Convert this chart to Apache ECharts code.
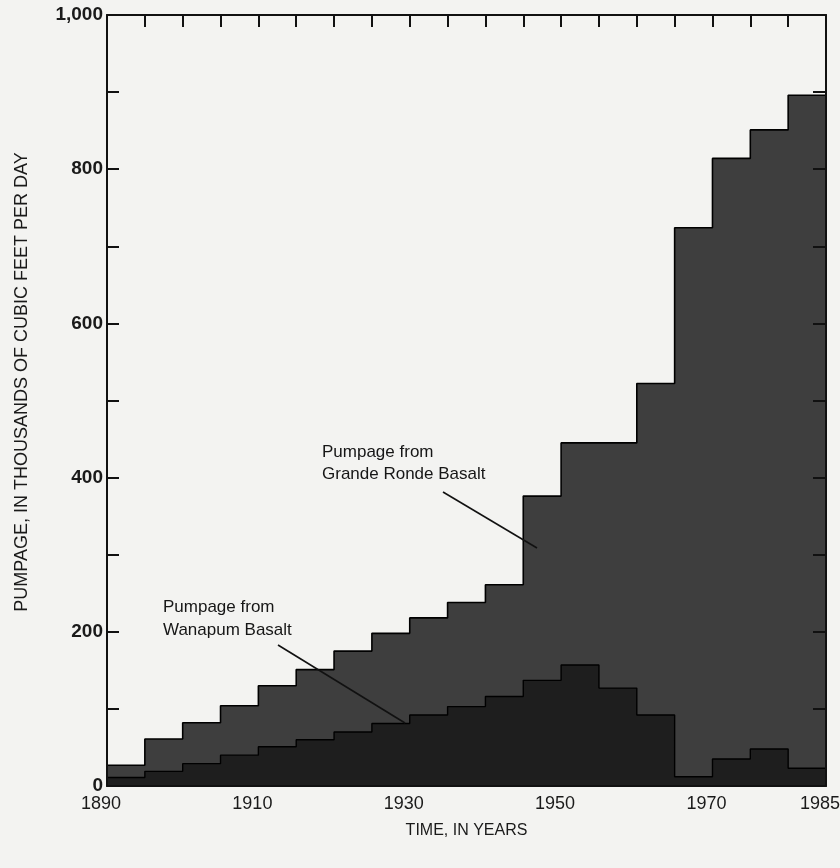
<!DOCTYPE html>
<html>
<head>
<meta charset="utf-8">
<script src="https://cdn.jsdelivr.net/npm/echarts@6/dist/echarts.min.js"></script>
<style>
html,body{margin:0;padding:0;background:#f3f3f1;}
#chart{width:840px;height:868px;}
</style>
</head>
<body>
<div id="chart"></div>
<script>
// 5-year bins (start year of each bin)
const binStartYears = [1890,1895,1900,1905,1910,1915,1920,1925,1930,1935,1940,1945,1950,1955,1960,1965,1970,1975,1980];
const endYear = 1985;
// Pumpage, thousands of cubic feet per day
const wanapum     = [11,19,29,40,51,60,70,81,92,103,116,137,157,127,92,12,35,48,23];
const grandeRonde = [16,42,53,64,79,91,105,117,126,135,145,239,288,318,430,712,779,803,873];
// Tick labels
const xTickLabels = [1890,1910,1930,1950,1970,1985];
const yTickLabels = [0,200,400,600,800,1000];
const yTickText   = ['0','200','400','600','800','1,000'];

// Total (Grande Ronde stacked on Wanapum)
const totalPumpage = wanapum.map((w,i)=> w + grandeRonde[i]);

function stepData(vals){
  const d = binStartYears.map((y,i)=>[y, vals[i]]);
  d.push([endYear, vals[vals.length-1]]);
  return d;
}

const FONT = "'Liberation Sans', Arial, sans-serif";
const chart = echarts.init(document.getElementById('chart'), null, {renderer:'canvas'});

const option = {
  backgroundColor: '#f3f3f1',
  animation: false,
  grid: {left:107, right:14, top:15, bottom:82, outerBoundsMode:'none', containLabel:false},
  xAxis: [
    {
      type:'value', position:'bottom', min:1890, max:1985, interval:5, z:10,
      axisLine:{show:true, onZero:false, lineStyle:{color:'#111', width:2}},
      axisTick:{show:false},
      splitLine:{show:false},
      axisLabel:{
        color:'#1a1a1a', fontFamily:FONT, fontSize:18, margin:9,
        showMinLabel:true, showMaxLabel:true,
        formatter:(v)=> xTickLabels.indexOf(v) >= 0 ? '{t|' + v + '}' : '',
        rich:{t:{fontFamily:FONT, fontSize:18, color:'#1a1a1a', padding:[0,12,0,0]}}
      },
      name:'TIME, IN YEARS', nameLocation:'middle', nameGap:37,
      nameTextStyle:{color:'#1a1a1a', fontFamily:FONT, fontSize:16}
    },
    {
      type:'value', position:'top', min:1890, max:1985, interval:5, z:10,
      axisLine:{show:true, onZero:false, lineStyle:{color:'#111', width:2}},
      axisTick:{show:true, inside:true, length:12, lineStyle:{color:'#111', width:2}},
      axisLabel:{show:false},
      splitLine:{show:false}
    }
  ],
  yAxis: [
    {
      type:'value', position:'left', min:0, max:1000, interval:100, z:10,
      axisLine:{show:true, onZero:false, lineStyle:{color:'#111', width:2}},
      axisTick:{show:true, inside:true, length:12, lineStyle:{color:'#111', width:2}},
      splitLine:{show:false},
      axisLabel:{
        color:'#1a1a1a', fontFamily:FONT, fontSize:19, fontWeight:'bold', margin:4,
        formatter:(v)=>{ const i = yTickLabels.indexOf(v); return i>=0 ? yTickText[i] : ''; }
      }
    },
    {
      type:'value', position:'right', min:0, max:1000, interval:100, z:10,
      axisLine:{show:true, onZero:false, lineStyle:{color:'#111', width:2}},
      axisTick:{show:true, inside:true, length:13, lineStyle:{color:'#111', width:2}},
      axisLabel:{show:false},
      splitLine:{show:false}
    }
  ],
  series: [
    {
      name:'Pumpage from Grande Ronde Basalt', type:'line', step:'end',
      xAxisIndex:0, yAxisIndex:0, symbol:'none',
      data: stepData(totalPumpage),
      lineStyle:{color:'#000', width:1.6},
      areaStyle:{color:'#3e3e3e', opacity:1},
      z:1
    },
    {
      name:'Pumpage from Wanapum Basalt', type:'line', step:'end',
      xAxisIndex:0, yAxisIndex:0, symbol:'none',
      data: stepData(wanapum),
      lineStyle:{color:'#000', width:1.4},
      areaStyle:{color:'#1e1e1e', opacity:1},
      z:2
    }
  ],
  graphic: [
    {type:'text', x:22, y:382, rotation:Math.PI/2, z:10,
     style:{text:'PUMPAGE, IN THOUSANDS OF CUBIC FEET PER DAY', fill:'#1a1a1a', font:'18px '+FONT, align:'center', verticalAlign:'middle'}},
    {type:'text', left:322, top:441, z:10,
     style:{text:'Pumpage from\nGrande Ronde Basalt', fill:'#161616', font:'17px '+FONT, lineHeight:22}},
    {type:'line', z:10, shape:{x1:443, y1:492, x2:537, y2:548}, style:{stroke:'#111', lineWidth:1.6}},
    {type:'text', left:163, top:596, z:10,
     style:{text:'Pumpage from\nWanapum Basalt', fill:'#161616', font:'17px '+FONT, lineHeight:23}},
    {type:'line', z:10, shape:{x1:278, y1:645, x2:405, y2:723}, style:{stroke:'#111', lineWidth:1.6}}
  ]
};
chart.setOption(option);
</script>
</body>
</html>
